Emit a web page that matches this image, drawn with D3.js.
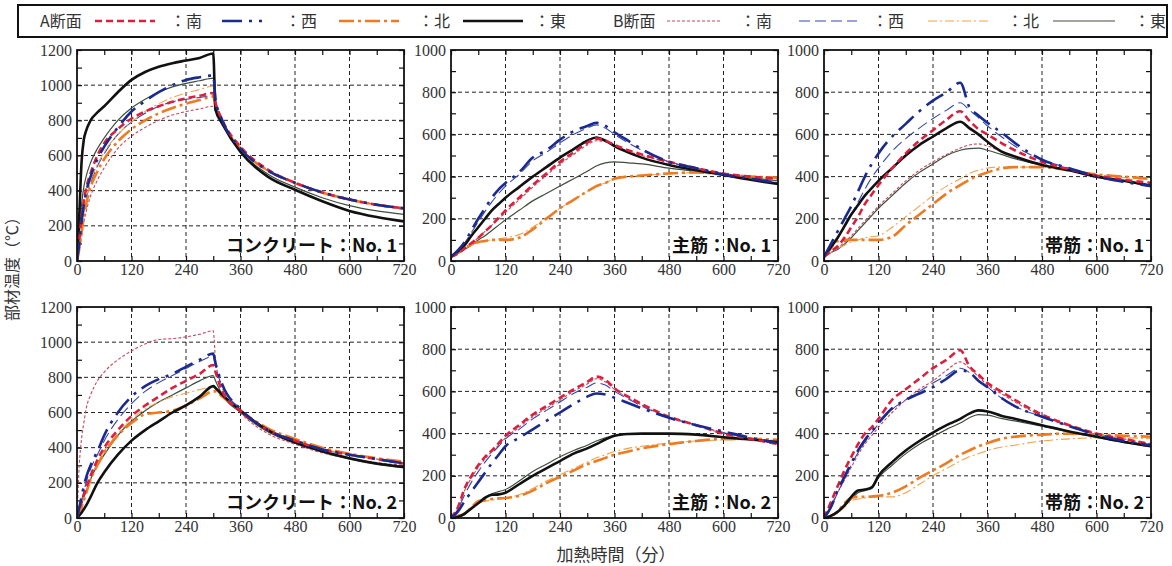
<!DOCTYPE html>
<html><head><meta charset="utf-8">
<script src="https://cdn.jsdelivr.net/npm/d3@7"></script>
<style>
body{margin:0;background:#fff;}
svg{display:block;}
</style></head>
<body><svg id="chart" width="1172" height="566"></svg>
<script>
// ---------- data ----------
const timeConcrete = [0,5,10,15,20,30,45,60,90,120,150,180,210,240,270,300,305,320,360,420,480,540,600,660,720];
const timeRebar    = [0,15,30,45,60,75,90,105,120,150,180,210,240,270,300,320,340,360,390,420,480,540,600,660,720];
const xTicks = [0,120,240,360,480,600,720];
const yTicksConcrete = [0,200,400,600,800,1000,1200];
const yTicksRebar = [0,200,400,600,800,1000];
const panelTitles = ["コンクリート：No. 1","主筋：No. 1","帯筋：No. 1","コンクリート：No. 2","主筋：No. 2","帯筋：No. 2"];
const sectionLabels = ["A断面","B断面"];
const directionLabels = ["南","西","北","東"];
const xAxisTitle = "加熱時間（分）";
const yAxisTitle = "部材温度（℃）";

// Concrete No.1
const c1_A_S = [0,120,250,340,410,500,600,670,750,810,850,880,905,925,940,955,900,800,650,520,445,390,350,320,300];
const c1_A_W = [0,100,220,320,390,480,580,650,760,850,910,960,1000,1030,1045,1055,920,800,640,515,445,390,350,320,300];
const c1_A_N = [0,70,160,250,320,420,510,580,680,750,800,840,870,895,915,935,880,790,640,515,445,390,350,320,300];
const c1_A_E = [0,260,560,690,740,800,845,880,960,1030,1075,1105,1125,1140,1155,1180,860,780,620,480,405,340,285,250,225];
const c1_B_S = [0,60,140,220,280,370,460,530,640,710,760,800,830,850,865,880,850,780,640,515,445,390,350,320,300];
const c1_B_W = [0,90,190,280,350,440,540,610,720,790,840,880,905,920,930,940,880,790,640,515,445,390,350,320,300];
const c1_B_N = [0,80,180,280,350,450,550,620,720,790,850,895,930,955,975,995,900,800,640,510,440,385,345,315,295];
const c1_B_E = [0,150,320,420,480,560,640,700,800,870,920,960,990,1010,1025,1040,900,800,630,495,420,360,315,285,265];

// Main rebar No.1
const r1_A_S = [20,35,60,85,110,140,170,205,240,300,360,415,470,515,560,580,570,550,525,505,470,440,415,400,390];
const r1_A_W = [20,50,90,145,200,250,300,340,370,420,490,525,575,615,640,655,640,610,570,530,470,440,410,390,370];
const r1_A_N = [20,40,60,80,90,95,100,100,100,110,150,200,250,290,330,355,370,390,400,405,415,420,410,400,395];
const r1_A_E = [20,45,75,120,160,200,240,270,300,350,400,445,490,530,570,585,570,545,515,490,455,430,408,385,365];
const r1_B_S = [20,35,60,85,110,140,170,200,230,290,350,405,460,505,550,570,565,545,520,500,468,440,415,400,390];
const r1_B_W = [20,45,85,135,185,235,280,320,355,410,475,515,560,600,630,645,630,600,560,525,470,440,410,390,370];
const r1_B_N = [20,40,60,75,85,95,100,105,110,125,160,205,250,290,330,355,370,390,400,405,415,418,410,400,395];
const r1_B_E = [20,35,55,75,100,120,145,170,195,240,285,320,355,390,425,450,465,470,465,460,440,425,410,395,380];

// Stirrup No.1
const s1_A_S = [20,45,70,110,160,210,270,315,360,440,510,570,620,670,710,665,625,600,560,525,470,435,405,385,370];
const s1_A_W = [20,80,140,200,260,330,400,460,510,590,650,710,760,800,845,730,690,655,610,560,480,440,400,375,355];
const s1_A_N = [20,60,95,100,100,100,100,100,100,115,170,220,270,320,360,385,405,420,438,445,445,430,410,400,390];
const s1_A_E = [20,65,110,165,220,265,310,345,380,440,500,550,590,630,660,630,600,565,520,495,455,430,400,380,355];
const s1_B_S = [20,40,60,90,120,155,190,225,260,320,380,430,470,505,535,550,555,545,520,495,460,430,400,380,365];
const s1_B_W = [20,60,110,160,220,280,340,395,440,520,580,630,675,715,750,715,680,640,590,545,480,440,400,375,360];
const s1_B_N = [20,40,60,75,90,100,110,115,120,160,210,260,310,355,390,415,430,440,445,445,445,430,410,395,385];
const s1_B_E = [20,40,55,80,110,145,180,215,250,310,370,420,460,500,525,533,535,525,505,485,455,430,400,380,360];

// Concrete No.2
const c2_A_S = [0,50,90,130,170,240,330,400,500,580,640,690,740,780,820,870,830,720,610,500,440,390,360,335,310];
const c2_A_W = [0,60,120,180,230,300,380,470,600,690,750,790,820,860,900,935,880,760,620,500,440,390,360,335,310];
const c2_A_N = [0,30,60,100,140,220,300,370,470,540,590,600,610,640,680,720,720,690,610,510,450,400,365,340,320];
const c2_A_E = [0,15,30,50,70,120,200,260,360,440,500,550,600,640,690,750,740,700,610,500,430,380,340,310,290];
const c2_B_S = [0,300,450,540,620,700,780,830,900,950,990,1015,1020,1030,1045,1065,900,740,600,480,420,370,340,315,300];
const c2_B_W = [0,50,100,150,200,280,360,440,560,650,720,770,810,850,890,920,860,750,620,500,440,390,360,335,310];
const c2_B_N = [0,40,80,120,160,230,310,380,480,560,620,660,690,710,730,745,730,690,610,505,445,395,360,335,315];
const c2_B_E = [0,40,80,120,150,220,300,360,470,550,610,660,700,740,780,810,780,700,600,490,425,375,335,305,285];

// Main rebar No.2
const r2_A_S = [0,50,140,200,250,290,320,355,390,440,490,530,570,610,645,670,655,615,575,540,480,440,400,375,350];
const r2_A_W = [0,30,80,125,170,215,260,300,340,380,420,460,500,540,575,590,585,570,545,520,475,440,410,380,355];
const r2_A_N = [0,10,20,50,80,85,90,93,95,105,130,165,195,225,255,270,285,300,315,330,350,365,375,375,370];
const r2_A_E = [0,5,20,45,70,95,110,112,120,160,200,235,270,305,330,350,372,390,398,400,400,395,383,372,360];
const r2_B_S = [0,45,130,190,240,280,315,345,380,430,480,520,560,600,635,660,645,610,570,535,478,440,400,375,350];
const r2_B_W = [0,40,110,170,220,265,305,340,375,420,470,510,550,590,620,640,630,600,565,530,478,440,405,378,352];
const r2_B_N = [0,10,25,50,70,80,85,90,95,110,140,175,205,235,265,285,300,315,330,340,355,365,370,372,368];
const r2_B_E = [0,8,25,50,75,100,115,125,135,175,220,255,290,320,345,365,380,390,398,400,400,395,383,372,358];

// Stirrup No.2
const s2_A_S = [0,75,150,225,290,350,400,430,470,560,610,660,710,750,795,720,680,640,600,560,490,440,400,375,350];
const s2_A_W = [0,50,130,195,260,320,370,410,450,520,560,590,620,660,700,690,650,620,570,530,480,435,395,365,345];
const s2_A_N = [0,10,30,70,95,100,100,102,105,120,150,190,225,260,300,320,340,355,375,385,395,400,395,390,385];
const s2_A_E = [0,10,30,60,100,130,135,145,200,265,320,365,405,440,470,495,510,505,485,470,440,410,385,360,340];
const s2_B_S = [0,60,120,180,240,300,350,390,430,500,560,610,650,700,740,710,670,630,590,550,485,440,400,375,350];
const s2_B_W = [0,50,120,185,250,310,360,405,445,515,560,600,640,675,710,690,650,620,570,530,480,435,395,365,345];
const s2_B_N = [0,8,25,50,80,90,95,98,100,100,120,160,200,235,270,290,305,320,335,345,365,375,380,380,375];
const s2_B_E = [0,8,25,55,90,120,130,140,190,250,305,350,385,420,450,475,490,488,472,460,435,408,383,358,338];

// ---------- styles ----------
const seriesStyles = [
  {color:"#dc1f3c", width:2.6, dash:"7,4"},        // A 南
  {color:"#1b2a8f", width:2.6, dash:"20,7,3,7"},   // A 西
  {color:"#ee7a22", width:2.6, dash:"15,4,3,4"},   // A 北
  {color:"#111111", width:2.6, dash:null},         // A 東
  {color:"#c4485a", width:1.1, dash:"3,2"},        // B 南
  {color:"#3646b4", width:1.1, dash:"11,5"},       // B 西
  {color:"#f2a24a", width:1.1, dash:"9,3,2,3"},    // B 北
  {color:"#3e4e3e", width:1.2, dash:null}          // B 東
];

const panels = [
  {title:panelTitles[0], t:timeConcrete, yTicks:yTicksConcrete, series:[c1_A_S,c1_A_W,c1_A_N,c1_A_E,c1_B_S,c1_B_W,c1_B_N,c1_B_E]},
  {title:panelTitles[1], t:timeRebar, yTicks:yTicksRebar, series:[r1_A_S,r1_A_W,r1_A_N,r1_A_E,r1_B_S,r1_B_W,r1_B_N,r1_B_E]},
  {title:panelTitles[2], t:timeRebar, yTicks:yTicksRebar, series:[s1_A_S,s1_A_W,s1_A_N,s1_A_E,s1_B_S,s1_B_W,s1_B_N,s1_B_E]},
  {title:panelTitles[3], t:timeConcrete, yTicks:yTicksConcrete, series:[c2_A_S,c2_A_W,c2_A_N,c2_A_E,c2_B_S,c2_B_W,c2_B_N,c2_B_E]},
  {title:panelTitles[4], t:timeRebar, yTicks:yTicksRebar, series:[r2_A_S,r2_A_W,r2_A_N,r2_A_E,r2_B_S,r2_B_W,r2_B_N,r2_B_E]},
  {title:panelTitles[5], t:timeRebar, yTicks:yTicksRebar, series:[s2_A_S,s2_A_W,s2_A_N,s2_A_E,s2_B_S,s2_B_W,s2_B_N,s2_B_E]}
];

// ---------- layout ----------
const colX = [77, 451, 824];
const rowY = [50, 307];
const pw = 327, ph = 211;
const svg = d3.select("#chart");
const serif = "'Liberation Serif','DejaVu Serif',serif";
const cjk = "'Noto Sans CJK JP','Noto Sans',sans-serif";

panels.forEach((p, i) => {
  const x0 = colX[i % 3], y0 = rowY[Math.floor(i / 3)];
  const ymax = p.yTicks[p.yTicks.length - 1];
  const x = d3.scaleLinear().domain([0, 720]).range([0, pw]);
  const y = d3.scaleLinear().domain([0, ymax]).range([ph, 0]);
  const g = svg.append("g").attr("transform", `translate(${x0},${y0})`);

  // grid
  g.append("g").selectAll("line").data(xTicks.slice(1, -1)).join("line")
    .attr("x1", d => x(d)).attr("x2", d => x(d)).attr("y1", 0).attr("y2", ph)
    .attr("stroke", "#222").attr("stroke-width", 1).attr("stroke-dasharray", "4,3");
  g.append("g").selectAll("line").data(p.yTicks.slice(1, -1)).join("line")
    .attr("y1", d => y(d)).attr("y2", d => y(d)).attr("x1", 0).attr("x2", pw)
    .attr("stroke", "#222").attr("stroke-width", 1).attr("stroke-dasharray", "4,3");

  // minor/major inner ticks on all sides
  const xMinor = d3.range(0, 721, 60);
  const yMinor = d3.range(0, ymax + 1, 100);
  const axB = d3.axisBottom(x).tickValues(xMinor).tickSize(-5).tickFormat("");
  const axT = d3.axisTop(x).tickValues(xMinor).tickSize(-5).tickFormat("");
  const axL = d3.axisLeft(y).tickValues(yMinor).tickSize(-5).tickFormat("");
  const axR = d3.axisRight(y).tickValues(yMinor).tickSize(-5).tickFormat("");
  [[axB, `translate(0,${ph})`], [axT, "translate(0,0)"], [axL, "translate(0,0)"], [axR, `translate(${pw},0)`]].forEach(([ax, tr]) => {
    const a = g.append("g").attr("transform", tr).call(ax);
    a.select(".domain").remove();
    a.selectAll("line").attr("stroke", "#111").attr("stroke-width", 1.2);
  });

  // tick labels via axes
  const lx = g.append("g").attr("transform", `translate(0,${ph})`)
    .call(d3.axisBottom(x).tickValues(xTicks).tickSize(0).tickPadding(3).tickFormat(d3.format("d")));
  lx.select(".domain").remove();
  lx.selectAll("text").attr("font-family", serif).attr("font-size", 16).attr("fill", "#333");
  const ly = g.append("g")
    .call(d3.axisLeft(y).tickValues(p.yTicks).tickSize(0).tickPadding(5).tickFormat(d3.format("d")));
  ly.select(".domain").remove();
  ly.selectAll("text").attr("font-family", serif).attr("font-size", 16).attr("fill", "#333");

  // series
  const clipId = "clip" + i;
  g.append("clipPath").attr("id", clipId).append("rect").attr("width", pw).attr("height", ph);
  const line = d3.line().x((d, j) => x(p.t[j])).y(d => y(d)).curve(d3.curveMonotoneX);
  const order = [7, 4, 5, 6, 2, 3, 0, 1];
  const lg = g.append("g").attr("clip-path", `url(#${clipId})`);
  order.forEach(k => {
    const st = seriesStyles[k];
    lg.append("path").datum(p.series[k]).attr("d", line)
      .attr("fill", "none").attr("stroke", st.color).attr("stroke-width", st.width)
      .attr("stroke-dasharray", st.dash).attr("stroke-linejoin", "round");
  });

  // frame
  g.append("rect").attr("width", pw).attr("height", ph)
    .attr("fill", "none").attr("stroke", "#111").attr("stroke-width", 1.8);

  // panel title
  g.append("text").attr("x", pw - 7).attr("y", ph - 9).attr("text-anchor", "end")
    .attr("font-family", cjk).attr("font-weight", "bold").attr("font-size", 18)
    .attr("fill", "#111").text(p.title);
});

// axis titles
svg.append("text").attr("transform", "translate(18,265) rotate(-90)")
  .attr("text-anchor", "middle").attr("font-family", cjk).attr("font-size", 16)
  .attr("fill", "#333").text(yAxisTitle);
svg.append("text").attr("x", 616).attr("y", 561).attr("text-anchor", "middle")
  .attr("font-family", cjk).attr("font-size", 17).attr("fill", "#333").text(xAxisTitle);

// legend
svg.append("rect").attr("x", 18).attr("y", 5).attr("width", 1149).attr("height", 32)
  .attr("fill", "#fff").attr("stroke", "#111").attr("stroke-width", 2);
const legY = 21;
const legendLayout = [
  {label: 40, items: [[95,155,170],[222,262,285],[339,399,418],[463,523,534]]},
  {label: 613, items: [[667,720,740],[799,857,872],[928,988,1007],[1053,1115,1134]]}
];
legendLayout.forEach((sec, s) => {
  svg.append("text").attr("x", sec.label).attr("y", legY + 6).attr("font-family", cjk)
    .attr("font-size", 16).attr("fill", "#333").text(sectionLabels[s]);
  sec.items.forEach((it, k) => {
    const st = seriesStyles[s * 4 + k];
    svg.append("line").attr("x1", it[0]).attr("x2", it[1]).attr("y1", legY).attr("y2", legY)
      .attr("stroke", st.color).attr("stroke-width", st.width).attr("stroke-dasharray", st.dash);
    svg.append("text").attr("x", it[2]).attr("y", legY + 6).attr("font-family", cjk)
      .attr("font-size", 16).attr("fill", "#333").text("：" + directionLabels[k]);
  });
});
</script></body></html>
